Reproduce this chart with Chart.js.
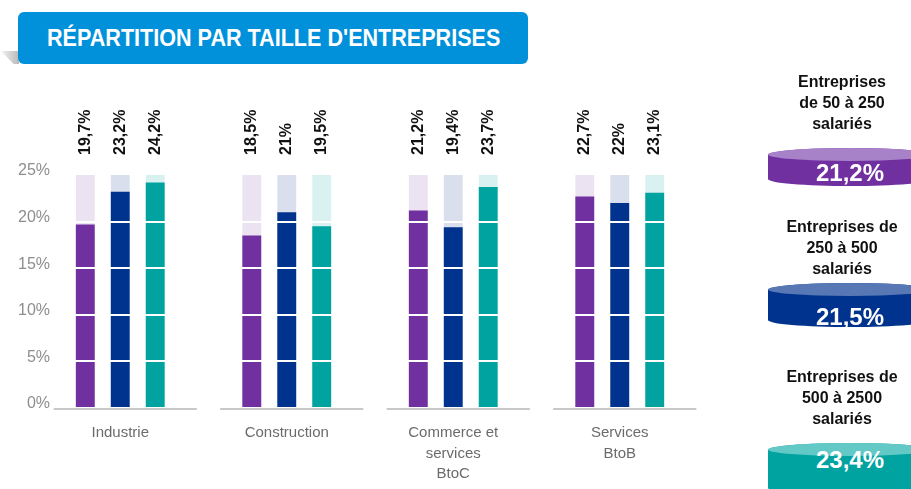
<!DOCTYPE html>
<html lang="fr">
<head>
<meta charset="utf-8">
<title>Répartition par taille d'entreprises</title>
<script src="https://cdn.jsdelivr.net/npm/chart.js@4.4.1/dist/chart.umd.min.js"></script>
<style>
  html, body { margin: 0; padding: 0; background: #fff; }
  body { width: 911px; height: 489px; position: relative; overflow: hidden;
         font-family: "Liberation Sans", Arial, Helvetica, sans-serif; }
  #wrap { position: absolute; left: 0; top: 0; width: 911px; height: 489px; }
  #banner { position: absolute; left: 18px; top: 12px; width: 510px; height: 52px;
            background: #0091da; border-radius: 6px; z-index: 2; }
  #banner-fold { position: absolute; left: 1px; top: 51px; width: 18px; height: 13px;
                 background: linear-gradient(90deg, rgba(190,190,190,0.2), #b9b9b9);
                 clip-path: polygon(0 0, 100% 0, 100% 100%, 70% 100%); z-index: 1; }
  #banner span { position: absolute; left: 29px; top: 13px; color: #fff; font-weight: bold;
                 font-size: 23px; line-height: 26px; white-space: nowrap; transform-origin: 0 50%; }
  .cls-label { position: absolute; left: 772px; width: 140px; text-align: center; color: #111;
               font-weight: bold; font-size: 16px; line-height: 21px; z-index: 2; }
  .cyl { position: absolute; left: 768px; width: 164px; border-radius: 82px / 7px; z-index: 2; }
  .cyl .cap { position: absolute; left: 0; top: 0; width: 100%; height: 13px; border-radius: 50%; }
  .cyl .val { position: absolute; left: 0; width: 100%; text-align: center; color: #fff;
              font-weight: bold; font-size: 24px; line-height: 26px; }
</style>
</head>
<body>
<div id="wrap"><canvas id="chart" width="911" height="489"></canvas></div>
<div id="banner-fold"></div>
<div id="banner"><span id="banner-text">RÉPARTITION PAR TAILLE D'ENTREPRISES</span></div>
<div id="legend"></div>
<script>
// Sectors (multi-line axis labels)
const categories = [
  ['Industrie'],
  ['Construction'],
  ['Commerce et', 'services', 'BtoC'],
  ['Services', 'BtoB']
];

// Company size classes
const sizeClasses = [
  ['Entreprises', 'de 50 à 250', 'salariés'],
  ['Entreprises de', '250 à 500', 'salariés'],
  ['Entreprises de', '500 à 2500', 'salariés']
];

// Share per sector, in %, for each size class
const values50to250 = [19.7, 18.5, 21.2, 22.7];
const values250to500 = [23.2, 21, 19.4, 22];
const values500to2500 = [24.2, 19.5, 23.7, 23.1];

// Overall share for each size class, in %
const overallShares = [21.2, 21.5, 23.4];

// Value axis
const yTicks = [0, 5, 10, 15, 20, 25];
const scaleMax = 25;

const seriesValues = [values50to250, values250to500, values500to2500];
const solidColors = ['#7030a0', '#00338d', '#00a39f'];
const trackColors = ['#ebe2f2', '#d9dfec', '#d9f1f1'];
const capColors = ['#a882c9', '#5878b5', '#63c9c6'];

const fmt = v => String(v).replace('.', ',') + '%';
const FONT = '"Liberation Sans", Arial, sans-serif';

// Bars for each size class plus a pale full-height track behind them
const datasets = [];
seriesValues.forEach((vals, i) => {
  datasets.push({
    label: sizeClasses[i].join(' '),
    data: vals,
    backgroundColor: solidColors[i],
    stack: 's' + i,
    order: 0,
    isValue: true
  });
});
seriesValues.forEach((vals, i) => {
  datasets.push({
    label: 'track' + i,
    data: categories.map(() => scaleMax),
    backgroundColor: trackColors[i],
    stack: 's' + i,
    order: 1,
    isValue: false
  });
});

// Rotated value labels, y tick labels and a segmented baseline per sector
const extras = {
  id: 'extras',
  afterDatasetsDraw(chart) {
    const ctx = chart.ctx;
    const top = chart.chartArea.top;
    ctx.save();
    ctx.fillStyle = '#111';
    ctx.font = 'bold 16px ' + FONT;
    ctx.textAlign = 'left';
    ctx.textBaseline = 'middle';
    chart.data.datasets.forEach((ds, di) => {
      if (!ds.isValue) return;
      chart.getDatasetMeta(di).data.forEach((bar, j) => {
        ctx.save();
        ctx.translate(bar.x, top - 20);
        ctx.rotate(-Math.PI / 2);
        ctx.fillText(fmt(ds.data[j]), 0, 0);
        ctx.restore();
      });
    });
    ctx.restore();
  },
  afterDraw(chart) {
    const ctx = chart.ctx;
    const xs = chart.scales.x;
    const ys = chart.scales.y;
    const y0 = ys.getPixelForValue(0) + 1;
    const w = xs.width / categories.length;
    ctx.save();
    ctx.strokeStyle = '#c8c8c8';
    ctx.lineWidth = 2;
    categories.forEach((c, i) => {
      const cx = xs.getPixelForValue(i);
      ctx.beginPath();
      ctx.moveTo(cx - 0.4 * w, y0);
      ctx.lineTo(cx + 0.46 * w, y0);
      ctx.stroke();
    });
    ctx.fillStyle = '#8e8e8e';
    ctx.font = '16px ' + FONT;
    ctx.textAlign = 'right';
    ctx.textBaseline = 'middle';
    ys.ticks.forEach(t => {
      ctx.fillText(t.value + '%', 50, ys.getPixelForValue(t.value) - 4);
    });
    ctx.restore();
  }
};

new Chart(document.getElementById('chart'), {
  type: 'bar',
  data: { labels: categories, datasets },
  options: {
    responsive: false,
    animation: false,
    events: [],
    layout: { padding: { left: 37, right: 208, top: 175, bottom: 5 } },
    categoryPercentage: 0.63,
    barPercentage: 0.54,
    plugins: { legend: { display: false }, tooltip: { enabled: false } },
    scales: {
      x: {
        afterFit(scale) { scale.height = 76; },
        grid: { display: false, drawTicks: false },
        border: { display: false },
        ticks: {
          autoSkip: false, maxRotation: 0, padding: 15, color: '#6b6b6b',
          font: { family: FONT, size: 15, lineHeight: 1.35 }
        }
      },
      y: {
        min: 0, max: scaleMax, stacked: false,
        afterFit(scale) { scale.width = 0; },
        afterBuildTicks(scale) { scale.ticks = yTicks.map(v => ({ value: v })); },
        grid: {
          z: 1, drawTicks: false, lineWidth: 2,
          color: c => (c.tick && (c.tick.value === 0 || c.tick.value === scaleMax)) ? 'rgba(0,0,0,0)' : '#ffffff'
        },
        border: { display: false },
        ticks: { display: false }
      }
    }
  },
  plugins: [extras]
});

// Banner text fitted to its width
const bt = document.getElementById('banner-text');
bt.style.transform = 'scaleX(' + (453 / bt.offsetWidth) + ')';

// Size-class legend with cylinder badges
const labelTops = [71, 216, 366];
const cylTops = [148, 283, 443];
const cylHeights = [38, 44, 52];
const valCenters = [25, 34, 17];
const legend = document.getElementById('legend');
sizeClasses.forEach((lines, i) => {
  const lab = document.createElement('div');
  lab.className = 'cls-label';
  lab.style.top = labelTops[i] + 'px';
  lab.innerHTML = lines.join('<br>');
  legend.appendChild(lab);

  const cyl = document.createElement('div');
  cyl.className = 'cyl';
  cyl.style.top = cylTops[i] + 'px';
  cyl.style.height = cylHeights[i] + 'px';
  cyl.style.background = solidColors[i];
  const cap = document.createElement('div');
  cap.className = 'cap';
  cap.style.background = capColors[i];
  const val = document.createElement('div');
  val.className = 'val';
  val.style.top = (valCenters[i] - 13) + 'px';
  val.textContent = fmt(overallShares[i]);
  cyl.appendChild(cap);
  cyl.appendChild(val);
  legend.appendChild(cyl);
});
</script>
</body>
</html>
